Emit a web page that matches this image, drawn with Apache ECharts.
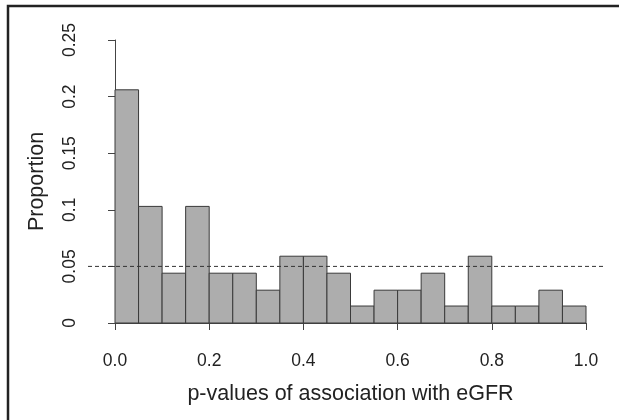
<!DOCTYPE html>
<html>
<head>
<meta charset="utf-8">
<script src="https://cdn.jsdelivr.net/npm/echarts@6/dist/echarts.min.js"></script>
<style>
  html, body { margin: 0; padding: 0; background: #fff; }
  #chart { width: 619px; height: 420px; }
</style>
</head>
<body>
<div id="chart"></div>
<script>
// histogram bins (width 0.05) and proportions
var binStarts = [0, 0.05, 0.1, 0.15, 0.2, 0.25, 0.3, 0.35, 0.4, 0.45, 0.5, 0.55, 0.6, 0.65, 0.7, 0.75, 0.8, 0.85, 0.9, 0.95];
var binEnds = [0.05, 0.1, 0.15, 0.2, 0.25, 0.3, 0.35, 0.4, 0.45, 0.5, 0.55, 0.6, 0.65, 0.7, 0.75, 0.8, 0.85, 0.9, 0.95, 1.0];
var proportions = [0.206, 0.103, 0.044, 0.103, 0.044, 0.044, 0.029, 0.059, 0.059, 0.044, 0.015, 0.029, 0.029, 0.044, 0.015, 0.059, 0.015, 0.015, 0.029, 0.015];
var refLevel = 0.05;
var xTicks = [0, 0.2, 0.4, 0.6, 0.8, 1.0];
var yTicks = [0, 0.05, 0.1, 0.15, 0.2, 0.25];

var font = 'Liberation Sans, Arial, sans-serif';

var histData = [];
for (var i = 0; i < binStarts.length; i++) {
  histData.push([binStarts[i], binEnds[i], proportions[i]]);
}

var option = {
  animation: false,
  graphic: [{
    type: 'polyline',
    shape: { points: [[8, 420], [8, 6], [619, 6]] },
    style: { stroke: '#222', lineWidth: 2.5, fill: null },
    silent: true
  }],
  grid: [
    { left: 115, right: 33, top: 40, bottom: 97 },
    { left: 88, right: 14, top: 40, bottom: 97 }
  ],
  xAxis: [{
    type: 'value', gridIndex: 0, min: xTicks[0], max: xTicks[xTicks.length - 1], interval: 0.2,
    offset: 11,
    axisLine: { show: true, lineStyle: { color: '#444', width: 1 } },
    axisTick: { show: true, length: 7, lineStyle: { color: '#444' } },
    splitLine: { show: false },
    axisLabel: {
      margin: 18, color: '#222', fontFamily: font, fontSize: 17.5,
      formatter: function (v) { return v.toFixed(1); }
    },
    name: 'p-values of association with eGFR',
    nameLocation: 'middle', nameGap: 49,
    nameTextStyle: { color: '#222', fontFamily: font, fontSize: 21.5 }
  }, {
    type: 'value', gridIndex: 1, min: 0, max: 1, show: false
  }],
  yAxis: [{
    type: 'value', gridIndex: 0, min: yTicks[0], max: yTicks[yTicks.length - 1], interval: 0.05,
    offset: 19,
    axisLine: { show: true, lineStyle: { color: '#444', width: 1 } },
    axisTick: { show: true, length: 7, lineStyle: { color: '#444' } },
    splitLine: { show: false },
    axisLabel: {
      margin: 17, rotate: 90, color: '#222', fontFamily: font, fontSize: 17.5,
      formatter: function (v) { return String(+v.toFixed(2)); }
    },
    name: 'Proportion',
    nameLocation: 'middle', nameGap: 48, nameRotate: 90,
    nameTextStyle: { color: '#222', fontFamily: font, fontSize: 21.5 }
  }, {
    type: 'value', gridIndex: 1, min: 0, max: 0.25, show: false
  }],
  series: [{
    type: 'custom',
    xAxisIndex: 0, yAxisIndex: 0,
    data: histData,
    renderItem: function (params, api) {
      var p0 = api.coord([api.value(0), api.value(2)]);
      var p1 = api.coord([api.value(1), 0]);
      return {
        type: 'rect',
        shape: { x: p0[0], y: p0[1], width: p1[0] - p0[0], height: p1[1] - p0[1] },
        style: { fill: '#adadad', stroke: '#3a3a3a', lineWidth: 1 }
      };
    },
    encode: { x: [0, 1], y: 2 }
  }, {
    type: 'line',
    xAxisIndex: 1, yAxisIndex: 1,
    data: [[0, refLevel], [1, refLevel]],
    showSymbol: false,
    symbol: 'none',
    z: 5,
    lineStyle: { color: '#333', width: 1, type: [4, 3] }
  }]
};

var chart = echarts.init(document.getElementById('chart'));
chart.setOption(option);
</script>
</body>
</html>
